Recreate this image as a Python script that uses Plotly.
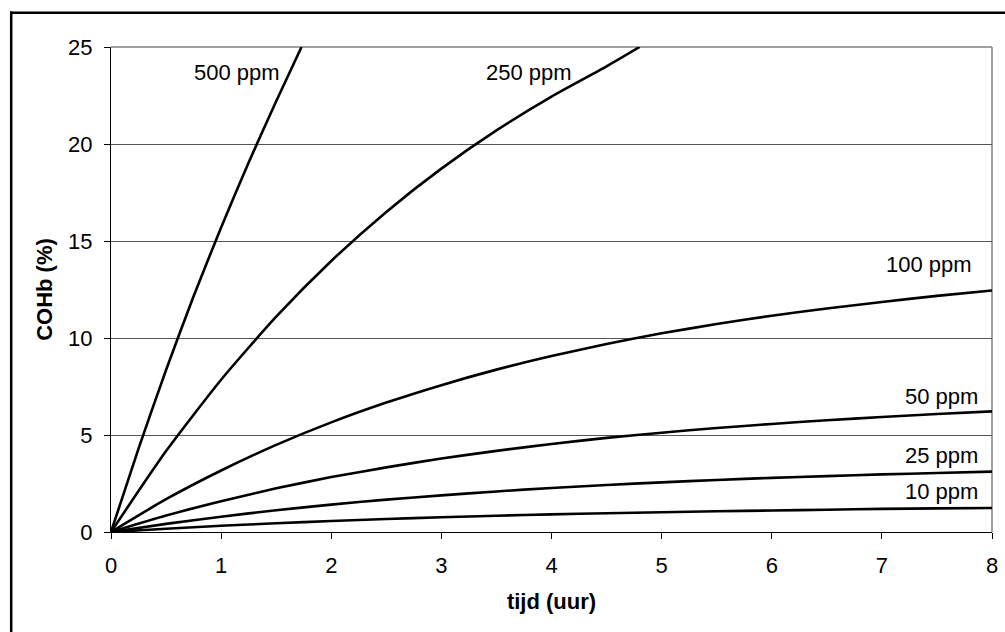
import plotly.graph_objects as go

# Time axis (hours)
t_full = [0, 0.5, 1, 1.5, 2, 2.5, 3, 3.5, 4, 4.5, 5, 5.5, 6, 6.5, 7, 7.5, 8]

# COHb (%)
t_500 = [0, 0.25, 0.5, 0.75, 1.0, 1.25, 1.5, 1.73]
cohb_500 = [0, 4.3, 8.35, 12.15, 15.7, 19.05, 22.2, 25.0]

t_250 = [0, 0.5, 1, 1.5, 2, 2.5, 3, 3.5, 4, 4.5, 4.8]
cohb_250 = [0, 4.17, 7.85, 11.1, 13.97, 16.5, 18.73, 20.7, 22.44, 24.0, 25.0]

cohb_100 = [0, 1.69, 3.17, 4.49, 5.65, 6.67, 7.57, 8.37, 9.07, 9.69, 10.24,
            10.72, 11.15, 11.52, 11.86, 12.17, 12.45]
cohb_50 = [0, 0.85, 1.58, 2.25, 2.83, 3.33, 3.79, 4.18, 4.54, 4.85, 5.12,
           5.36, 5.57, 5.76, 5.93, 6.08, 6.22]
cohb_25 = [0, 0.42, 0.79, 1.12, 1.41, 1.67, 1.89, 2.09, 2.27, 2.42, 2.56,
           2.68, 2.79, 2.88, 2.97, 3.04, 3.11]
cohb_10 = [0, 0.17, 0.32, 0.45, 0.57, 0.67, 0.76, 0.84, 0.91, 0.97, 1.02,
           1.07, 1.11, 1.15, 1.19, 1.22, 1.24]

series = [
    ("500 ppm", t_500, cohb_500),
    ("250 ppm", t_250, cohb_250),
    ("100 ppm", t_full, cohb_100),
    ("50 ppm", t_full, cohb_50),
    ("25 ppm", t_full, cohb_25),
    ("10 ppm", t_full, cohb_10),
]

# Label positions (data coords, right-anchored)
label_text = ["500 ppm", "250 ppm", "100 ppm", "50 ppm", "25 ppm", "10 ppm"]
label_x = [1.55, 4.2, 7.84, 7.89, 7.89, 7.89]
label_y = [23.7, 23.7, 13.8, 6.96, 3.92, 2.11]

x_ticks = [0, 1, 2, 3, 4, 5, 6, 7, 8]
y_ticks = [0, 5, 10, 15, 20, 25]

FONT = "Liberation Sans, Arial, sans-serif"
FS = 22

fig = go.Figure()
for name, tx, vy in series:
    fig.add_trace(go.Scatter(
        x=tx, y=vy, mode="lines", name=name,
        line=dict(color="black", width=2.6, shape="spline", smoothing=0.6),
        showlegend=False, hoverinfo="x+y+name",
    ))

for txt, lx, ly in zip(label_text, label_x, label_y):
    fig.add_annotation(x=lx, y=ly, text=txt, showarrow=False,
                       xanchor="right", yanchor="middle",
                       font=dict(family=FONT, size=FS, color="black"))

W, H = 1005, 632
L, R, T, B = 111, 13, 47, 100
pw, ph = W - L - R, H - T - B

def px(xp):
    return (xp - L) / pw

def py(yp):
    return (H - B - yp) / ph

shapes = [
    # outer chart border: top and left edges (the rest lies outside the picture)
    dict(type="line", xref="paper", yref="paper",
         x0=px(10), x1=px(1010), y0=py(12.8), y1=py(12.8),
         line=dict(color="black", width=2.5), layer="above"),
    dict(type="line", xref="paper", yref="paper",
         x0=px(11.2), x1=px(11.2), y0=py(11.6), y1=py(640),
         line=dict(color="black", width=2.5), layer="above"),
    # plot frame top / right (gray)
    dict(type="line", xref="paper", yref="paper", x0=0, x1=1, y0=1, y1=1,
         line=dict(color="#808080", width=1.5), layer="below"),
    dict(type="line", xref="paper", yref="paper", x0=1, x1=1, y0=0, y1=1,
         line=dict(color="#808080", width=1.5), layer="below"),
]

fig.update_layout(
    width=W, height=H,
    margin=dict(l=L, r=R, t=T, b=B),
    paper_bgcolor="white", plot_bgcolor="white",
    font=dict(family=FONT, size=FS, color="black"),
    shapes=shapes,
    xaxis=dict(
        range=[0, 8], tickvals=x_ticks, ticktext=[str(v) for v in x_ticks],
        showgrid=False, zeroline=False,
        showline=True, linecolor="black", linewidth=1,
        ticks="outside", ticklen=6, tickcolor="black", tickwidth=1,
        ticklabelstandoff=8,
        tickfont=dict(family=FONT, size=FS, color="black"),
        title=dict(text="<b>tijd (uur)</b>", standoff=16,
                   font=dict(family=FONT, size=FS, color="black")),
        automargin=False, fixedrange=True,
    ),
    yaxis=dict(
        range=[0, 25], tickvals=y_ticks, ticktext=[str(v) for v in y_ticks],
        showgrid=True, gridcolor="#555555", gridwidth=1, zeroline=False,
        showline=True, linecolor="black", linewidth=1,
        ticks="outside", ticklen=6, tickcolor="black", tickwidth=1,
        ticklabelstandoff=7,
        tickfont=dict(family=FONT, size=FS, color="black"),
        title=dict(text="<b>COHb (%)</b>", standoff=9,
                   font=dict(family=FONT, size=FS, color="black")),
        automargin=False, fixedrange=True,
    ),
)

fig.write_html(
    "out.html",
    config={"displayModeBar": False},
    post_script="document.body.style.margin='0';document.body.style.overflow='hidden';",
)
